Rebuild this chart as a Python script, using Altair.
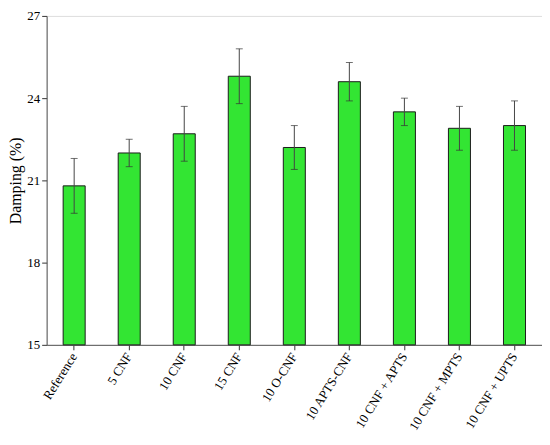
import altair as alt
import pandas as pd

categories = ["Reference", "5 CNF", "10 CNF", "15 CNF", "10 O-CNF", "10 APTS-CNF",
              "10 CNF + APTS", "10 CNF + MPTS", "10 CNF + UPTS"]
damping = [20.8, 22.0, 22.7, 24.8, 22.2, 24.6, 23.5, 22.9, 23.0]
error = [1.0, 0.5, 1.0, 1.0, 0.8, 0.7, 0.5, 0.8, 0.9]

df = pd.DataFrame({"cat": categories, "val": damping, "err": error})
df["lo"] = df["val"] - df["err"]
df["hi"] = df["val"] + df["err"]

xenc = alt.X("cat:N", sort=categories, title=None,
             scale=alt.Scale(paddingInner=0.6, paddingOuter=0.3),
             axis=alt.Axis(labelAngle=302, labelAlign="right", labelBaseline="middle",
                           labelFont="Liberation Serif", labelFontSize=13, labelColor="black",
                           tickColor="#333", domainColor="#555", labelPadding=4, tickSize=5,
                           labelLimit=200))
yscale = alt.Scale(domain=[15, 27], nice=False, zero=False)

bars = alt.Chart(df).mark_bar(color="#33e533", stroke="#1a1a1a", strokeWidth=1).encode(
    x=xenc,
    y=alt.Y("val:Q", scale=yscale, title="Damping (%)",
            axis=alt.Axis(values=[15, 18, 21, 24, 27], grid=False,
                          labelFont="Liberation Serif", labelFontSize=13, labelColor="black",
                          labelPadding=2,
                          titleFont="Liberation Serif", titleFontSize=16, titleFontWeight="normal",
                          titleColor="black", tickColor="#333", domainColor="#555",
                          tickSize=5, titlePadding=3)),
    y2=alt.datum(15),
)

rule = alt.Chart(df).mark_rule(color="#444", strokeWidth=1).encode(
    x=alt.X("cat:N", sort=categories),
    y=alt.Y("lo:Q", scale=yscale),
    y2="hi:Q",
)
cap_hi = alt.Chart(df).mark_tick(color="#333", size=7, thickness=1).encode(
    x=alt.X("cat:N", sort=categories), y=alt.Y("hi:Q", scale=yscale))
cap_lo = alt.Chart(df).mark_tick(color="#333", size=7, thickness=1).encode(
    x=alt.X("cat:N", sort=categories), y=alt.Y("lo:Q", scale=yscale))

chart = alt.layer(bars, rule, cap_hi, cap_lo).properties(
    width=500, height=332,
    padding={"left": 0, "top": 0, "right": 0, "bottom": 0},
).configure_view(stroke="#555", strokeWidth=1).configure(background="white")

chart.save("out.html", embed_options={"renderer": "svg", "actions": False})
